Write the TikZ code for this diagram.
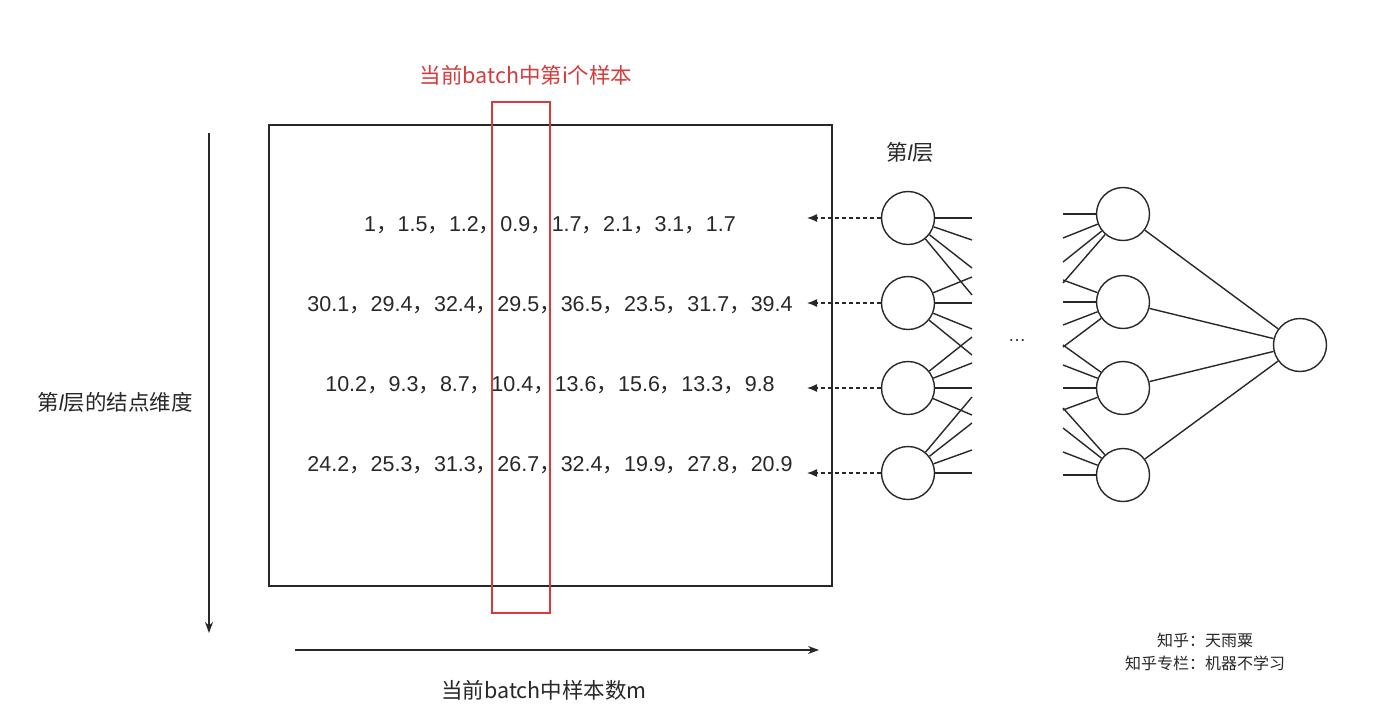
\documentclass[tikz,border=0pt]{standalone}
\usepackage{fontspec}
\setmainfont{Liberation Sans}
\newfontfamily\cjk{Noto Sans CJK SC}
\usetikzlibrary{arrows.meta}
\newcommand\fcm{{\cjk ，}}
\newcommand\layl{{\rmfamily\itshape l}}
\definecolor{redline}{RGB}{214,60,60}
\definecolor{ink}{RGB}{40,40,40}
\begin{document}
\begin{tikzpicture}[x=1pt,y=-1pt,
  neuron/.style={circle,draw=ink,line width=1.4pt,minimum size=53pt,inner sep=0pt},
  conn/.style={draw=ink,line width=1.4pt},
  numrow/.style={text=ink,font=\fontsize{21.5}{24}\selectfont,inner sep=0pt},
  cjklabel/.style={text=ink,font=\cjk\fontsize{21.5}{24}\selectfont,inner sep=0pt},
  feed/.style={draw=ink,line width=1.3pt,dash pattern=on 4pt off 3pt,-{Latex[length=10pt,width=8pt]}},
  axis/.style={draw=ink,line width=1.4pt,-{Stealth[length=11pt,width=8pt]}}
]
\useasboundingbox (0,0) rectangle (1377,710);
\fill[white] (0,0) rectangle (1377,710);

% main box and red column
\node[draw=ink,line width=1.6pt,minimum width=563pt,minimum height=461pt,inner sep=0pt] (box) at (550.5,355.5) {};
\node[draw=redline,line width=1.4pt,minimum width=58pt,minimum height=511pt,inner sep=0pt] (col) at (521,357.5) {};
\node[text=redline,font=\cjk\fontsize{21.5}{24}\selectfont,inner sep=0pt] (title) at (526,75) {当前batch中第i个样本};

% number rows
\node[numrow] (r1) at (550,225) {1\fcm 1.5\fcm 1.2\fcm 0.9\fcm 1.7\fcm 2.1\fcm 3.1\fcm 1.7};
\node[numrow] (r2) at (550,305) {30.1\fcm 29.4\fcm 32.4\fcm 29.5\fcm 36.5\fcm 23.5\fcm 31.7\fcm 39.4};
\node[numrow] (r3) at (550,385) {10.2\fcm 9.3\fcm 8.7\fcm 10.4\fcm 13.6\fcm 15.6\fcm 13.3\fcm 9.8};
\node[numrow] (r4) at (550,465) {24.2\fcm 25.3\fcm 31.3\fcm 26.7\fcm 32.4\fcm 19.9\fcm 27.8\fcm 20.9};

% axes
\coordinate (vtop) at (209,133);
\coordinate (vbot) at (209,633);
\draw[axis] (vtop) -- (vbot);
\coordinate (hl) at (295,650);
\coordinate (hr) at (819,650);
\draw[axis] (hl) -- (hr);
\node[cjklabel] (ylab) at (115,402) {第\layl 层的结点维度};
\node[cjklabel] (xlab) at (544,690) {当前batch中样本数m};

% network
\node[cjklabel] (layer) at (910,152) {第\layl 层};
\foreach \i/\y in {1/218,2/303,3/388,4/473}{
  \node[neuron] (L\i) at (908,\y) {};
  \coordinate (a\i) at (807,\y);
  \draw[feed] (L\i) -- (a\i);
}
\foreach \i/\y in {1/214,2/302,3/388,4/475}{
  \node[neuron] (R\i) at (1123,\y) {};
}
\node[neuron] (out) at (1300,345) {};
\node[text=ink,font=\fontsize{18}{20}\selectfont,inner sep=0pt] (dots) at (1017,341) {\dots};

% left fan-out lines
\foreach \i/\ys in {1/{218,240,268,295},2/{277,303,329,355},3/{337,363,388,415},4/{397,423,450,473}}{
  \foreach \yy [count=\k] in \ys {
    \coordinate (lo\i\k) at (972,\yy);
    \draw[conn] (L\i) -- (lo\i\k);
  }
}
% right fan-in lines
\foreach \i/\ys in {1/{214,238,262,283},2/{280,302,325,347},3/{345,365,388,410},4/{408,428,452,475}}{
  \foreach \yy [count=\k] in \ys {
    \coordinate (ri\i\k) at (1063,\yy);
    \draw[conn] (ri\i\k) -- (R\i);
  }
}
\foreach \i in {1,2,3,4}{ \draw[conn] (R\i) -- (out); }

% watermark
\node[text=ink,font=\cjk\fontsize{16}{18}\selectfont,inner sep=0pt] (wm1) at (1205,640) {知乎：天雨粟};
\node[text=ink,font=\cjk\fontsize{16}{18}\selectfont,inner sep=0pt] (wm2) at (1205,663) {知乎专栏：机器不学习};
\end{tikzpicture}
\end{document}
